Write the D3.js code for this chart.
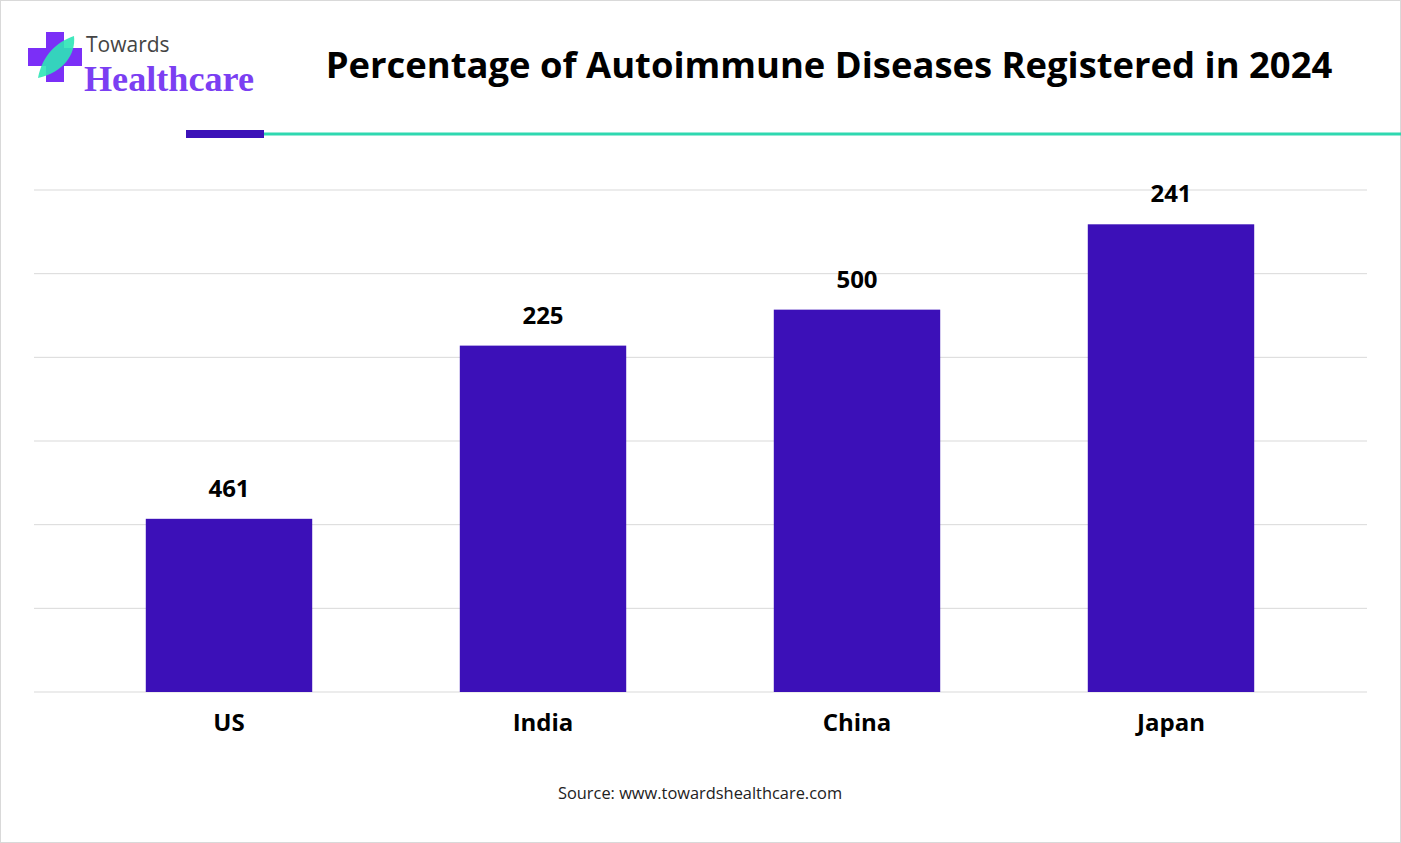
<!DOCTYPE html>
<html><head><meta charset="utf-8">
<script src="https://cdn.jsdelivr.net/npm/d3@7"></script>
<style>body{margin:0;background:#fff}svg{display:block}</style></head>
<body><svg id="c" width="1401" height="843"></svg>
<script>
const categories = ["US","India","China","Japan"];
const barValues = [2.07, 4.14, 4.57, 5.59];
const valueLabels = ["461","225","500","241"];
const yTicks = [0,1,2,3,4,5,6];

const svg = d3.select("#c");
const F = "'Open Sans', 'Noto Sans', sans-serif";
svg.append("rect").attr("x",0.5).attr("y",0.5).attr("width",1400).attr("height",842).attr("fill","#fff").attr("stroke","#d9d9d9");

// logo
const lg = svg.append("g");
lg.append("path").attr("d","M28 48h18v-16h18v16h18v18h-18v16h-18v-16h-18z").attr("fill","#7b2ff7");
lg.append("path").attr("d","M38 78c4-22 18-36 36-42c2 18-10 36-36 42z").attr("fill","#2ee6b6").attr("opacity",0.9);
lg.append("text").attr("x",86).attr("y",52).attr("font-family",F).attr("font-size",21).attr("fill","#444").text("Towards");
lg.append("text").attr("x",84).attr("y",91).attr("font-family","'Liberation Serif', serif").attr("font-weight","bold").attr("font-size",36)
  .attr("textLength",170).attr("lengthAdjust","spacingAndGlyphs").attr("fill","#7b3ff2").text("Healthcare");

svg.append("text").attr("x",829).attr("y",78).attr("text-anchor","middle").attr("font-family",F)
  .attr("font-weight","bold").attr("font-size",36.4).attr("fill","#000").text("Percentage of Autoimmune Diseases Registered in 2024");
svg.append("line").attr("x1",263).attr("x2",1401).attr("y1",134).attr("y2",134).attr("stroke","#2ed8b0").attr("stroke-width",3);
svg.append("rect").attr("x",186).attr("y",130).attr("width",78).attr("height",8).attr("fill","#3c12b8");

const x = d3.scaleBand().domain(categories).range([72,1328]).paddingInner(0.47).paddingOuter(0.235);
const y = d3.scaleLinear().domain([0,6]).range([692,190]);

svg.append("g").selectAll("line").data(yTicks).join("line")
  .attr("x1",34).attr("x2",1367).attr("y1",d=>y(d)).attr("y2",d=>y(d))
  .attr("stroke","#d9d9d9").attr("stroke-width",1);

svg.append("g").selectAll("rect").data(categories).join("rect")
  .attr("x",d=>x(d)).attr("width",x.bandwidth())
  .attr("y",(d,i)=>y(barValues[i])).attr("height",(d,i)=>y(0)-y(barValues[i]))
  .attr("fill","#3c10b8");

svg.append("g").selectAll("text").data(categories).join("text")
  .attr("x",d=>x(d)+x.bandwidth()/2).attr("y",(d,i)=>y(barValues[i])-22)
  .attr("text-anchor","middle").attr("font-family",F).attr("font-weight","bold").attr("font-size",24)
  .text((d,i)=>valueLabels[i]);

const xa = svg.append("g").attr("transform","translate(0,692)").call(d3.axisBottom(x).tickSize(0).tickPadding(22));
xa.select(".domain").remove();
xa.selectAll("text").attr("font-family",F).attr("font-weight","bold").attr("font-size",24).attr("fill","#000");

svg.append("text").attr("x",700).attr("y",799).attr("text-anchor","middle").attr("font-family",F)
  .attr("font-size",16.4).attr("fill","#222").text("Source: www.towardshealthcare.com");
</script></body></html>
